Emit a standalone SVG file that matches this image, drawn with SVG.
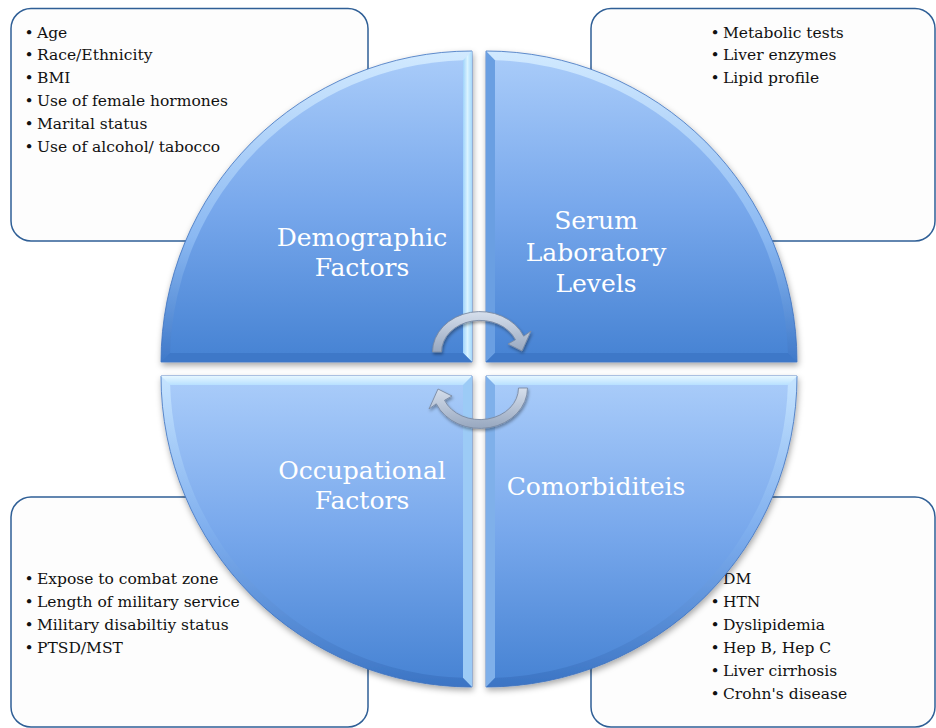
<svg xmlns="http://www.w3.org/2000/svg" width="936" height="728" viewBox="0 0 936 728">
  <defs>
    <style>
      .box { fill: #fdfdfd; stroke: #2f5f96; stroke-width: 1.5; }
      .item { font-family: "DejaVu Serif", "Liberation Serif", serif; font-size: 15.5px; fill: #111; }
      .bul { font-family: "DejaVu Serif", "Liberation Serif", serif; font-size: 15.5px; fill: #111; text-anchor: middle; }
      .lbl { font-family: "DejaVu Serif", "Liberation Serif", serif; font-size: 25px; fill: #ffffff; text-anchor: middle; }
      .outline { stroke: #3c71bf; stroke-width: 0.8; }
      .arrow { fill: url(#arrowGrad); stroke: #7a8aa3; stroke-width: 0.9; stroke-linejoin: round; }
    </style>
    <linearGradient id="bodyGrad" x1="0" y1="0" x2="0" y2="1">
      <stop offset="0" stop-color="#a8cbf9"/>
      <stop offset="0.5" stop-color="#78a8ec"/>
      <stop offset="1" stop-color="#4884d4"/>
    </linearGradient>
    <linearGradient id="rimTop" gradientUnits="userSpaceOnUse" x1="0" y1="51" x2="0" y2="362">
      <stop offset="0" stop-color="#d2eaff"/>
      <stop offset="0.6" stop-color="#8ab8f2"/>
      <stop offset="1" stop-color="#3f79c9"/>
    </linearGradient>
    <linearGradient id="rimBot" gradientUnits="userSpaceOnUse" x1="0" y1="376" x2="0" y2="687">
      <stop offset="0" stop-color="#c6e4ff"/>
      <stop offset="0.5" stop-color="#7eaeee"/>
      <stop offset="1" stop-color="#3b74c4"/>
    </linearGradient>
    <linearGradient id="lightV" x1="0" y1="0" x2="1" y2="0">
      <stop offset="0" stop-color="#9fd3fb"/>
      <stop offset="0.5" stop-color="#d9f3ff"/>
      <stop offset="1" stop-color="#a5d8fb"/>
    </linearGradient>
    <linearGradient id="lightH" x1="0" y1="0" x2="0" y2="1">
      <stop offset="0" stop-color="#e6f7ff"/>
      <stop offset="1" stop-color="#b8e0ff"/>
    </linearGradient>
    <linearGradient id="arrowGrad" x1="0" y1="0" x2="0" y2="1">
      <stop offset="0" stop-color="#d6dfec"/>
      <stop offset="1" stop-color="#97a7bf"/>
    </linearGradient>
    <filter id="shadow" x="-10%" y="-10%" width="120%" height="120%">
      <feDropShadow dx="1" dy="3" stdDeviation="3" flood-color="#000" flood-opacity="0.35"/>
    </filter>
    <filter id="ashadow" x="-20%" y="-20%" width="140%" height="140%">
      <feDropShadow dx="1" dy="2" stdDeviation="1.5" flood-color="#000" flood-opacity="0.35"/>
    </filter>
  </defs>

  <!-- Info boxes -->
  <g id="box-demographic">
    <rect class="box" x="11" y="8.5" width="357" height="232.5" rx="20"/>
    <text class="bul" x="29" y="37.5">•</text><text class="item" x="37" y="37.5">Age</text>
    <text class="bul" x="29" y="60.4">•</text><text class="item" x="37" y="60.4">Race/Ethnicity</text>
    <text class="bul" x="29" y="83.3">•</text><text class="item" x="37" y="83.3">BMI</text>
    <text class="bul" x="29" y="106.2">•</text><text class="item" x="37" y="106.2">Use of female hormones</text>
    <text class="bul" x="29" y="129.1">•</text><text class="item" x="37" y="129.1">Marital status</text>
    <text class="bul" x="29" y="152">•</text><text class="item" x="37" y="152">Use of alcohol/ tabocco</text>
  </g>
  <g id="box-serum">
    <rect class="box" x="591" y="8.5" width="344" height="232.5" rx="20"/>
    <text class="bul" x="715" y="37.5">•</text><text class="item" x="723" y="37.5">Metabolic tests</text>
    <text class="bul" x="715" y="60.4">•</text><text class="item" x="723" y="60.4">Liver enzymes</text>
    <text class="bul" x="715" y="83.3">•</text><text class="item" x="723" y="83.3">Lipid profile</text>
  </g>
  <g id="box-occupational">
    <rect class="box" x="11" y="497" width="357" height="230" rx="20"/>
    <text class="bul" x="29" y="584">•</text><text class="item" x="37" y="584">Expose to combat zone</text>
    <text class="bul" x="29" y="607">•</text><text class="item" x="37" y="607">Length of military service</text>
    <text class="bul" x="29" y="630">•</text><text class="item" x="37" y="630">Military disabiltiy status</text>
    <text class="bul" x="29" y="653">•</text><text class="item" x="37" y="653">PTSD/MST</text>
  </g>
  <g id="box-comorbidities">
    <rect class="box" x="591" y="497" width="344" height="230" rx="20"/>
    <text class="bul" x="715" y="584">•</text><text class="item" x="723" y="584">DM</text>
    <text class="bul" x="715" y="607">•</text><text class="item" x="723" y="607">HTN</text>
    <text class="bul" x="715" y="630">•</text><text class="item" x="723" y="630">Dyslipidemia</text>
    <text class="bul" x="715" y="653">•</text><text class="item" x="723" y="653">Hep B, Hep C</text>
    <text class="bul" x="715" y="676">•</text><text class="item" x="723" y="676">Liver cirrhosis</text>
    <text class="bul" x="715" y="699">•</text><text class="item" x="723" y="699">Crohn's disease</text>
  </g>

  <!-- Quadrants -->
  <g id="q-demographic">
    <path class="outline" filter="url(#shadow)" fill="url(#rimTop)" d="M472,362 L161,362 A311,311 0 0 1 472,51 Z"/>
    <path fill="url(#lightV)" d="M472,51 L472,362 L463,353 L463,60.13 Z"/>
    <path fill="#3e78c8" d="M161,362 L472,362 L463,353 L170.13,353 Z"/>
    <path fill="url(#bodyGrad)" d="M463,353 L170.13,353 A302,302 0 0 1 463,60.13 Z"/>
    <text class="lbl" x="362" y="246">Demographic</text>
    <text class="lbl" x="362" y="276">Factors</text>
  </g>
  <g id="q-serum">
    <path class="outline" filter="url(#shadow)" fill="url(#rimTop)" d="M486,362 L486,51 A311,311 0 0 1 797,362 Z"/>
    <path fill="#6a9fe2" d="M486,51 L486,362 L495,353 L495,60.13 Z"/>
    <path fill="#3e78c8" d="M486,362 L797,362 L787.87,353 L495,353 Z"/>
    <path fill="url(#bodyGrad)" d="M495,353 L495,60.13 A302,302 0 0 1 787.87,353 Z"/>
    <text class="lbl" x="596" y="229">Serum</text>
    <text class="lbl" x="596" y="261">Laboratory</text>
    <text class="lbl" x="596" y="292">Levels</text>
  </g>
  <g id="q-occupational">
    <path class="outline" filter="url(#shadow)" fill="url(#rimBot)" d="M472,376 L472,687 A311,311 0 0 1 161,376 Z"/>
    <path fill="url(#lightH)" d="M161,376 L472,376 L463,385 L170.13,385 Z"/>
    <path fill="#9ccbf6" d="M472,376 L472,687 L463,677.87 L463,385 Z"/>
    <path fill="url(#bodyGrad)" d="M463,385 L463,677.87 A302,302 0 0 1 170.13,385 Z"/>
    <text class="lbl" x="362" y="479">Occupational</text>
    <text class="lbl" x="362" y="509">Factors</text>
  </g>
  <g id="q-comorbidities">
    <path class="outline" filter="url(#shadow)" fill="url(#rimBot)" d="M486,376 L797,376 A311,311 0 0 1 486,687 Z"/>
    <path fill="url(#lightH)" d="M486,376 L797,376 L787.87,385 L495,385 Z"/>
    <path fill="#7fb0ea" d="M486,376 L486,687 L495,677.87 L495,385 Z"/>
    <path fill="url(#bodyGrad)" d="M495,385 L787.87,385 A302,302 0 0 1 495,677.87 Z"/>
    <text class="lbl" x="596" y="495">Comorbiditeis</text>
  </g>

  <!-- Cycle arrows -->
  <g id="connectors" filter="url(#ashadow)">
    <path class="arrow" d="M432.5,352 A47.5,40.5 0 0 1 523.7,336.2 L531,331 L522,351 L508,344 L515.5,339.7 A38.5,31.5 0 0 0 441.5,352 Z"/>
    <path class="arrow" d="M527.5,388 A47.5,40.5 0 0 1 436.3,403.8 L429,409 L438,389 L452,396 L444.5,400.3 A38.5,31.5 0 0 0 518.5,388 Z"/>
  </g>
</svg>
